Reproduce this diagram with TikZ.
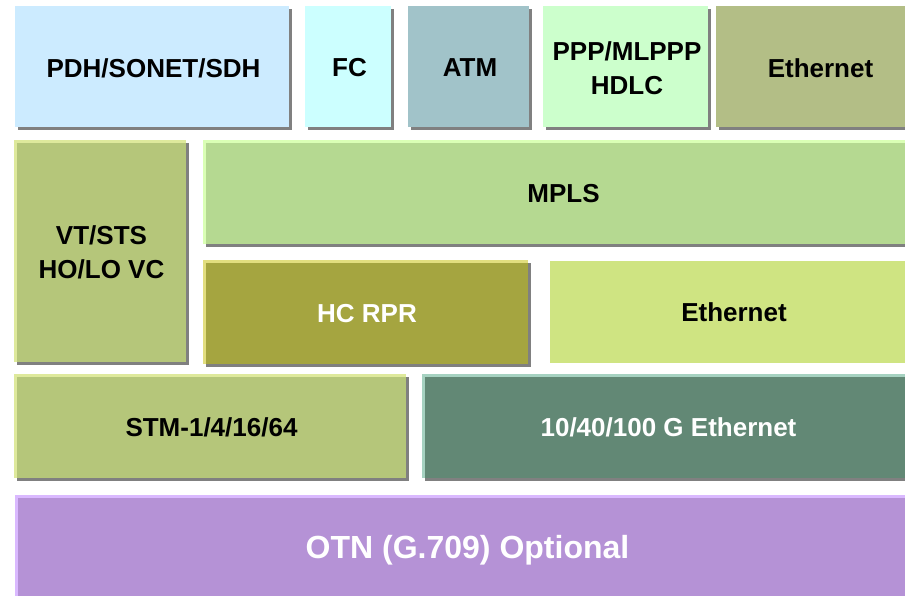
\documentclass[tikz,border=0pt]{standalone}
\usepackage{fontspec}
\setmainfont{Liberation Sans}

\definecolor{layershadow}{HTML}{808080}
\definecolor{pdhfill}{HTML}{CCEBFF}
\definecolor{fcfill}{HTML}{CCFFFF}
\definecolor{atmfill}{HTML}{A1C3C9}
\definecolor{pppfill}{HTML}{CCFFCC}
\definecolor{ethtopfill}{HTML}{B3BE86}
\definecolor{sdhhi}{HTML}{DEE99C}
\definecolor{sdhfill}{HTML}{B5C67A}
\definecolor{mplshi}{HTML}{DAFFB5}
\definecolor{mplsfill}{HTML}{B5D991}
\definecolor{rprhi}{HTML}{E2DE7F}
\definecolor{rprfill}{HTML}{A5A540}
\definecolor{ethmidfill}{HTML}{CFE482}
\definecolor{gehi}{HTML}{A6D2C1}
\definecolor{gefill}{HTML}{628875}
\definecolor{otnhi}{HTML}{DAB9FF}
\definecolor{otnfill}{HTML}{B592D6}

\tikzset{
  layerbox/.style={inner sep=0pt, align=center,
    font=\fontsize{26}{34}\selectfont\bfseries},
  bigtext/.style={font=\fontsize{32}{38}\selectfont\bfseries},
}

% #1 name, #2..#5 outer rectangle (x0,y0,x1,y1), #6 highlight, #7 fill,
% #8 text style, #9 label
\newcommand\stackbox[9]{%
  \fill[layershadow] (#2+3,#3+3) rectangle (#4+3,#5+3);
  \fill[#6] (#2,#3) rectangle (#4,#5);
  \node[layerbox, fill=#7, #8,
        minimum width={#4-#2-3}, minimum height={#5-#3-3}]
        (#1) at ({(#2+3+#4)/2},{(#3+3+#5)/2}) {#9};
}

\begin{document}
\begin{tikzpicture}[x=1pt,y=-1pt]
\useasboundingbox (0,0) rectangle (905,596);
\clip (0,0) rectangle (905,596);

% client layer
\stackbox{pdh}{15}{6}{289}{127}{pdhfill}{pdhfill}{text=black}{PDH/SONET/SDH}
\stackbox{fc}{305}{6}{391}{127}{fcfill}{fcfill}{text=black}{FC}
\stackbox{atm}{408}{6}{529}{127}{atmfill}{atmfill}{text=black}{ATM}
\stackbox{ppp}{543}{6}{708}{127}{pppfill}{pppfill}{text=black}{PPP/MLPPP\\HDLC}
\stackbox{ethtop}{716}{6}{922}{127}{ethtopfill}{ethtopfill}{text=black}{Ethernet}

% adaptation layer
\stackbox{vtsts}{14}{140}{186}{362}{sdhhi}{sdhfill}{text=black}{VT/STS\\HO/LO VC}
\stackbox{mpls}{203}{140}{921}{244}{mplshi}{mplsfill}{text=black}{MPLS}
\stackbox{rpr}{203}{260}{528}{364}{rprhi}{rprfill}{text=white}{HC RPR}
\node[layerbox, fill=ethmidfill, minimum width=368, minimum height=102]
  (ethmid) at (734,312) {Ethernet};

% transport layer
\stackbox{stm}{14}{374}{406}{478}{sdhhi}{sdhfill}{text=black}{STM-1/4/16/64}
\stackbox{ge}{422}{374}{912}{478}{gehi}{gefill}{text=white}{10/40/100 G Ethernet}

% optical layer
\stackbox{otn}{15}{495}{917}{602}{otnhi}{otnfill}{text=white, bigtext}{OTN (G.709) Optional}
\end{tikzpicture}
\end{document}
